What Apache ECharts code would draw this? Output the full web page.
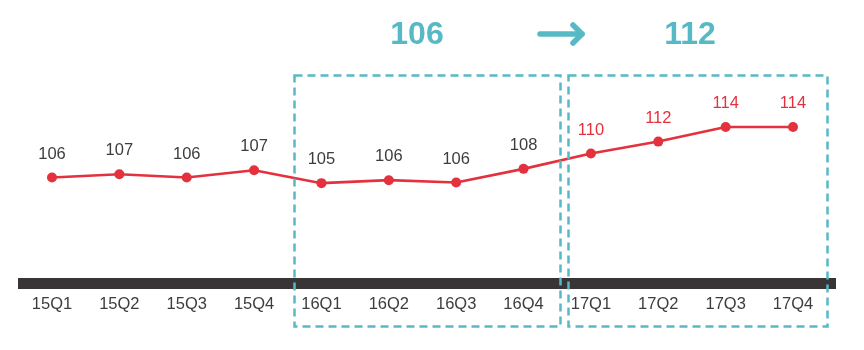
<!DOCTYPE html>
<html><head><meta charset="utf-8">
<script src="https://cdn.jsdelivr.net/npm/echarts@6/dist/echarts.min.js"></script>
<style>html,body{margin:0;padding:0;background:#fff}#c{width:864px;height:350px}</style>
</head><body><div id="c"></div>
<script>
var categories = ['15Q1','15Q2','15Q3','15Q4','16Q1','16Q2','16Q3','16Q4','17Q1','17Q2','17Q3','17Q4'];
var values = [106.3,106.8,106.3,107.4,105.45,105.9,105.55,107.6,109.9,111.7,113.9,113.9];
var labelText = ['106','107','106','107','105','106','106','108','110','112','114','114'];
var avg2016 = '106';
var avg2017 = '112';

var RED = '#e3323e', TEAL = '#56b9c5', DARK = '#3d3d3d';
var FONT = '"Liberation Sans", Arial, sans-serif';

var chart = echarts.init(document.getElementById('c'), null, {renderer:'canvas'});
var data = values.map(function(v,i){
  return {value:v, label:{color: i>=8 ? RED : DARK}};
});
chart.setOption({
  animation:false,
  grid:[
    {left:18.3, right:37.3, top:86.4, height:199.5},
    {left:18, right:28, top:200, height:83.5}
  ],
  xAxis:[
    {type:'category', gridIndex:0, data:categories, boundaryGap:true,
     axisLine:{show:false}, axisTick:{show:false},
     axisLabel:{color:DARK, fontSize:16.5, fontFamily:FONT, margin:10}},
    {type:'value', gridIndex:1, min:0, max:1,
     axisLine:{show:true, onZero:false, lineStyle:{color:'#393536', width:11, cap:'butt'}},
     axisTick:{show:false}, axisLabel:{show:false}, splitLine:{show:false}}
  ],
  yAxis:[
    {type:'value', gridIndex:0, min:90, max:120, show:false, splitLine:{show:false}},
    {type:'value', gridIndex:1, min:0, max:1, show:false}
  ],
  series:[{
    type:'line', xAxisIndex:0, yAxisIndex:0, data:data,
    symbol:'circle', symbolSize:10,
    lineStyle:{color:RED, width:2.6}, itemStyle:{color:RED},
    label:{show:true, position:'top', distance:10, fontSize:16.5, fontFamily:FONT,
      formatter:function(p){return labelText[p.dataIndex];}}
  }],
  graphic:[
    {type:'rect', shape:{x:294.5, y:75.5, width:266, height:251}, z:10,
     style:{fill:null, stroke:TEAL, lineWidth:2.5, lineDash:[8,5]}},
    {type:'rect', shape:{x:568.5, y:75.5, width:259, height:251}, z:10,
     style:{fill:null, stroke:TEAL, lineWidth:2.5, lineDash:[8,5]}},
    {type:'text', x:417, y:35, style:{text:avg2016, fill:TEAL, font:'bold 32px '+FONT, textAlign:'center', textVerticalAlign:'middle'}},
    {type:'text', x:690, y:35, style:{text:avg2017, fill:TEAL, font:'bold 32px '+FONT, textAlign:'center', textVerticalAlign:'middle'}},
    {type:'polyline', shape:{points:[[540,34],[582,34]]}, style:{stroke:TEAL, lineWidth:5.5, lineCap:'round', fill:null}},
    {type:'polyline', shape:{points:[[573,25],[582,34],[573,43]]}, style:{stroke:TEAL, lineWidth:5.5, lineCap:'round', lineJoin:'round', fill:null}}
  ]
});
</script></body></html>
